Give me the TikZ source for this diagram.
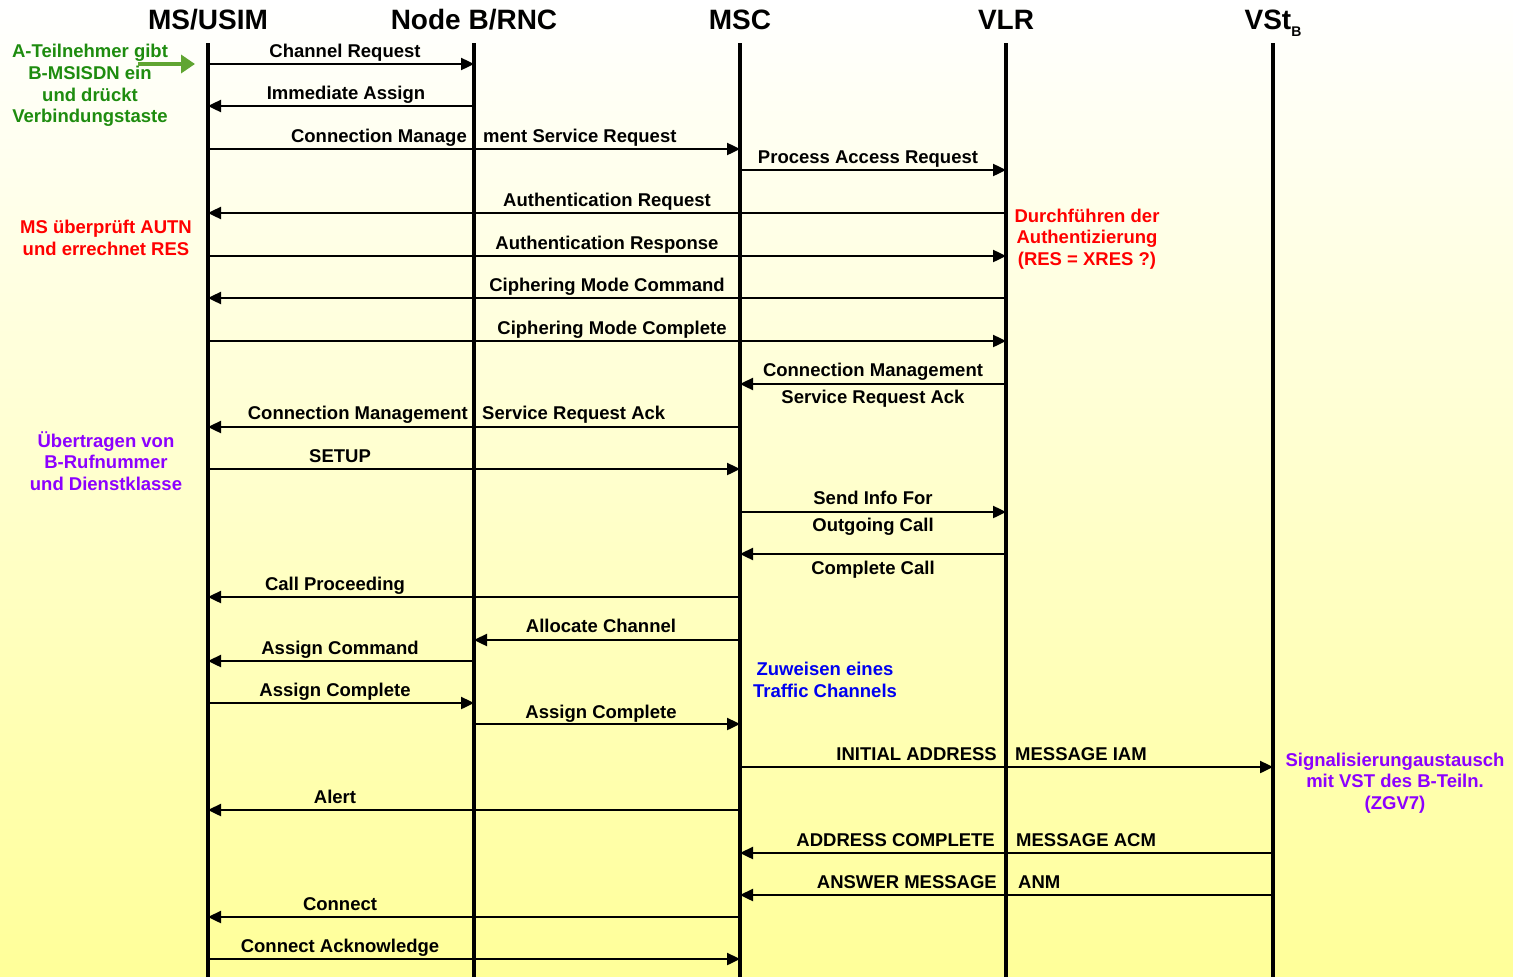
\documentclass[tikz,border=0pt]{standalone}
\usepackage{fontspec}
\setmainfont{Liberation Sans}
\usetikzlibrary{arrows.meta}
\definecolor{bgtop}{RGB}{255,255,255}
\definecolor{bgbot}{RGB}{255,255,153}
\definecolor{notegreen}{RGB}{30,140,15}
\definecolor{arrowgreen}{RGB}{96,165,50}
\definecolor{notered}{RGB}{255,0,0}
\definecolor{noteviolet}{RGB}{140,0,255}
\definecolor{noteblue}{RGB}{0,0,240}

\begin{document}
\begin{tikzpicture}[x=1pt,y=-1pt,
  header/.style={font=\fontsize{28}{30}\selectfont\bfseries, anchor=base, inner sep=0},
  lifeline/.style={line width=3.5pt},
  msg/.style={line width=2.4pt, -{Triangle[length=13pt,width=12pt]}},
  lbl/.style={font=\fontsize{18.5}{21.5}\selectfont\bfseries, anchor=base, inner sep=0},
  note/.style={font=\fontsize{18.5}{21.7}\selectfont\bfseries, align=center, inner sep=0},
]
% background
\shade[top color=bgtop, bottom color=bgbot] (0,0) rectangle (1513,977);
\useasboundingbox (0,0) rectangle (1513,977);

% headers
\node[header] (hms)  at (208,29)  {MS/USIM};
\node[header] (hnb)  at (474,29)  {Node B/RNC};
\node[header] (hmsc) at (740,29)  {MSC};
\node[header] (hvlr) at (1006,29) {VLR};
\node[header] (hvst) at (1273,29) {VSt\raisebox{-0.28em}{\fontsize{14}{14}\selectfont B}};

% lifelines
\coordinate (ms)  at (208,43);
\coordinate (nb)  at (474,43);
\coordinate (msc) at (740,43);
\coordinate (vlr) at (1006,43);
\coordinate (vst) at (1273,43);
\foreach \l in {ms,nb,msc,vlr,vst}
  \draw[lifeline] (\l) -- (\l |- 0,977);

% messages
\draw[msg] (ms |- 0,64) -- (nb |- 0,64);
\node[lbl] (m1) at (345,57) {Channel Request};

\draw[msg] (nb |- 0,106) -- (ms |- 0,106);
\node[lbl] (m2) at (346,99) {Immediate Assign};

\draw[msg] (ms |- 0,149) -- (msc |- 0,149);
\node[lbl, anchor=base east] (m3a) at (467,142) {Connection Manage};
\node[lbl, anchor=base west] (m3b) at (483,142) {ment Service Request};

\draw[msg] (msc |- 0,170) -- (vlr |- 0,170);
\node[lbl] (m4) at (868,163) {Process Access Request};

\draw[msg] (vlr |- 0,213) -- (ms |- 0,213);
\node[lbl] (m5) at (607,206) {Authentication Request};

\draw[msg] (ms |- 0,256) -- (vlr |- 0,256);
\node[lbl] (m6) at (607,249) {Authentication Response};

\draw[msg] (vlr |- 0,298) -- (ms |- 0,298);
\node[lbl] (m7) at (607,291) {Ciphering Mode Command};

\draw[msg] (ms |- 0,341) -- (vlr |- 0,341);
\node[lbl] (m8) at (612,334) {Ciphering Mode Complete};

\draw[msg] (vlr |- 0,384) -- (msc |- 0,384);
\node[lbl] (m9a) at (873,376) {Connection Management};
\node[lbl] (m9b) at (873,403) {Service Request Ack};

\draw[msg] (msc |- 0,427) -- (ms |- 0,427);
\node[lbl, anchor=base east] (m10a) at (468,419) {Connection Management};
\node[lbl, anchor=base west] (m10b) at (482,419) {Service Request Ack};

\draw[msg] (ms |- 0,469) -- (msc |- 0,469);
\node[lbl] (m11) at (340,462) {SETUP};

\draw[msg] (msc |- 0,512) -- (vlr |- 0,512);
\node[lbl] (m12a) at (873,504) {Send Info For};
\node[lbl] (m12b) at (873,531) {Outgoing Call};

\draw[msg] (vlr |- 0,554) -- (msc |- 0,554);
\node[lbl] (m13) at (873,574) {Complete Call};

\draw[msg] (msc |- 0,597) -- (ms |- 0,597);
\node[lbl] (m14) at (335,590) {Call Proceeding};

\draw[msg] (msc |- 0,640) -- (nb |- 0,640);
\node[lbl] (m15) at (601,632) {Allocate Channel};

\draw[msg] (nb |- 0,661) -- (ms |- 0,661);
\node[lbl] (m16) at (340,654) {Assign Command};

\draw[msg] (ms |- 0,703) -- (nb |- 0,703);
\node[lbl] (m17) at (335,696) {Assign Complete};

\draw[msg] (nb |- 0,724) -- (msc |- 0,724);
\node[lbl] (m18) at (601,718) {Assign Complete};

\draw[msg] (msc |- 0,767) -- (vst |- 0,767);
\node[lbl, anchor=base east] (m19a) at (997,760) {INITIAL ADDRESS};
\node[lbl, anchor=base west] (m19b) at (1015,760) {MESSAGE IAM};

\draw[msg] (msc |- 0,810) -- (ms |- 0,810);
\node[lbl] (m20) at (335,803) {Alert};

\draw[msg] (vst |- 0,853) -- (msc |- 0,853);
\node[lbl, anchor=base east] (m21a) at (995,846) {ADDRESS COMPLETE};
\node[lbl, anchor=base west] (m21b) at (1016,846) {MESSAGE ACM};

\draw[msg] (vst |- 0,895) -- (msc |- 0,895);
\node[lbl, anchor=base east] (m22a) at (997,888) {ANSWER MESSAGE};
\node[lbl, anchor=base west] (m22b) at (1018,888) {ANM};

\draw[msg] (msc |- 0,917) -- (ms |- 0,917);
\node[lbl] (m23) at (340,910) {Connect};

\draw[msg] (ms |- 0,959) -- (msc |- 0,959);
\node[lbl] (m24) at (340,952) {Connect Acknowledge};

% side notes
\node[note, text=notegreen] (n1) at (90,85.5)
  {A-Teilnehmer gibt\\B-MSISDN ein\\und drückt\\Verbindungstaste};
\coordinate (g1) at (138,64);
\coordinate (g2) at (195,64);
\draw[line width=4pt, arrowgreen, -{Triangle[length=14pt,width=18pt]}] (g1) -- (g2);

\node[note, text=notered] (n2) at (106,238)
  {MS überprüft AUTN\\und errechnet RES};
\node[note, text=notered] (n3) at (1087,239)
  {Durchführen der\\Authentizierung\\(RES = XRES ?)};
\node[note, text=noteviolet] (n4) at (106,461)
  {Übertragen von\\B-Rufnummer\\und Dienstklasse};
\node[note, text=noteblue] (n5) at (825,680)
  {Zuweisen eines\\Traffic Channels};
\node[note, text=noteviolet] (n6) at (1395,783)
  {Signalisierungaustausch\\mit VST des B-Teiln.\\(ZGV7)};
\end{tikzpicture}
\end{document}
